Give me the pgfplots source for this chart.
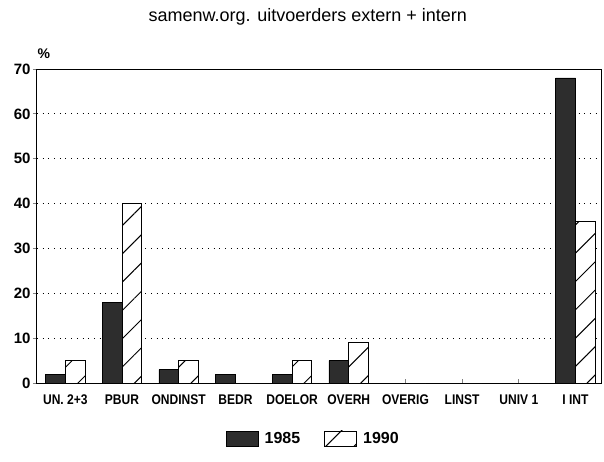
\documentclass[border=0pt]{standalone}
\usepackage{pgfplots}
\pgfplotsset{compat=1.18}
\usepackage{fontspec}
\setmainfont{Liberation Sans}
\usetikzlibrary{patterns.meta}
\definecolor{barDark}{RGB}{45,45,45}
\newcommand\lab[1]{\scalebox{0.86}[1]{#1}}

\begin{document}
\begin{tikzpicture}
\useasboundingbox (-37pt,-78pt) rectangle (567pt,383pt);
\begin{axis}[
    scale only axis,
    width=564pt,
    height=314pt,
    ybar=0pt,
    bar width=0.35,
    xmin=-0.5, xmax=9.45,
    ymin=0, ymax=70,
    xtick={0,...,9},
    xticklabels={\lab{UN. 2+3}, \lab{PBUR}, \lab{ONDINST}, \lab{BEDR}, \lab{DOELOR},
        \lab{OVERH}, \lab{OVERIG}, \lab{LINST}, \lab{UNIV 1}, \lab{I INT}},
    ytick={0,10,...,70},
    x tick label style={font=\fontsize{14}{16}\selectfont\bfseries, yshift=-8pt},
    y tick label style={font=\fontsize{15}{17}\selectfont\bfseries, xshift=-3pt},
    /pgf/number format/assume math mode=true,
    xtick pos=bottom, ytick pos=left,
    tick align=inside,
    major tick length=4pt,
    ytick style={xshift=-4pt, thick},
    xtick style={thick},
    ymajorgrids,
    grid style={black, line width=0.8pt, dash pattern=on 0.9pt off 4.8pt},
    axis line style={line width=1pt},
    title={samenw.org. uitvoerders extern + intern},
    title style={font=\fontsize{18}{20}\selectfont, at={(0.48,1.148)}, anchor=center},
    ylabel={\%},
    ylabel style={font=\fontsize{14}{16}\selectfont\bfseries, rotate=-90, at={(0.012,1.05)}, anchor=center},
    legend style={at={(0.49,-0.178)}, anchor=center, draw=none, legend columns=2,
        font=\fontsize{16}{18}\selectfont\bfseries,
        /tikz/every even column/.append style={column sep=22pt}},
    legend image code/.code={\draw[#1] (0pt,-7pt) rectangle (32pt,8pt); \path (36pt,0pt);},
]
\addplot[fill=barDark, draw=black, line width=0.6pt] coordinates {
    (0,2) (1,18) (2,3) (3,2) (4,2) (5,5) (6,0) (7,0) (8,0) (9,68)
};
\addplot[fill=white, draw=black, line width=0.9pt,
    postaction={pattern={Lines[angle=45, distance=20pt, line width=1pt]}}] coordinates {
    (0,5) (1,40) (2,5) (3,0) (4,5) (5,9) (6,0) (7,0) (8,0) (9,36)
};
\legend{1985, 1990}
\end{axis}
\end{tikzpicture}
\end{document}
